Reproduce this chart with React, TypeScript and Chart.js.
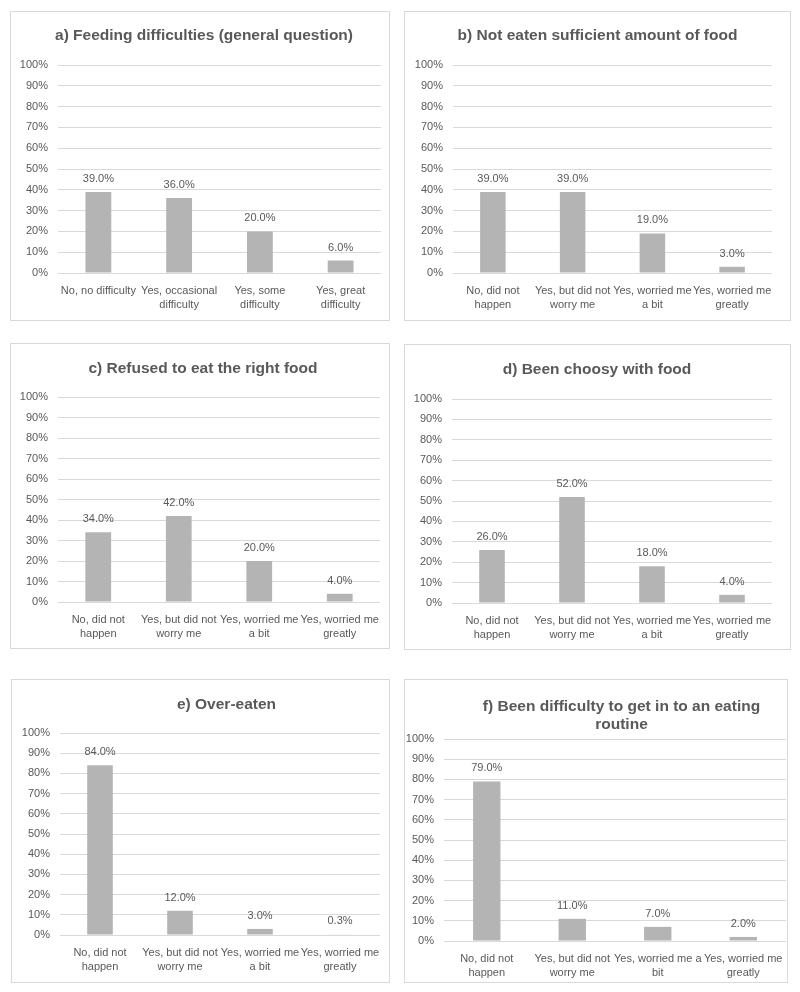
import React, { useEffect, useRef } from "react";
import { Chart, registerables } from "chart.js";

Chart.register(...registerables);

// ---------- data ----------
const labelsA = [["No, no difficulty"], ["Yes, occasional", "difficulty"], ["Yes, some", "difficulty"], ["Yes, great", "difficulty"]];
const labelsWorry = [["No, did not", "happen"], ["Yes, but did not", "worry me"], ["Yes, worried me", "a bit"], ["Yes, worried me", "greatly"]];
const labelsF = [["No, did not", "happen"], ["Yes, but did not", "worry me"], ["Yes, worried me a", "bit"], ["Yes, worried me", "greatly"]];

const valuesA = [39, 36, 20, 6];
const valuesB = [39, 39, 19, 3];
const valuesC = [34, 42, 20, 4];
const valuesD = [26, 52, 18, 4];
const valuesE = [84, 12, 3, 0.3];
const valuesF = [79, 11, 7, 2];

const titleA = ["a) Feeding difficulties (general question)"];
const titleB = ["b) Not eaten sufficient amount of food"];
const titleC = ["c) Refused to eat the right food"];
const titleD = ["d) Been choosy with food"];
const titleE = ["e) Over-eaten"];
const titleF = ["f) Been difficulty to get in to an eating", "routine"];

const yTickValues = [0, 10, 20, 30, 40, 50, 60, 70, 80, 90, 100];

// ---------- style ----------
const FONT = "'Liberation Sans', Arial, Helvetica, sans-serif";
const TEXT = "#595959";
const GRID = "#d9d9d9";
const BAR = "#b4b4b4";
const BORDER = "#d9d9d9";

type PanelCfg = {
  labels: string[][];
  values: number[];
  title: string[];
  box: [number, number, number, number]; // L, T, R, B (page px)
  plot: [number, number, number, number]; // left, top(100%), right, bottom(0%)
  titleX: number;
  titleBase: number[];
};

const PANELS: PanelCfg[] = [
  { labels: labelsA, values: valuesA, title: titleA, box: [10, 11, 389, 320], plot: [58, 65, 381, 273], titleX: 204, titleBase: [40] },
  { labels: labelsWorry, values: valuesB, title: titleB, box: [404, 11, 790, 320], plot: [453, 65, 772, 273], titleX: 597.5, titleBase: [40] },
  { labels: labelsWorry, values: valuesC, title: titleC, box: [10, 343, 389, 648], plot: [58, 397, 380, 602], titleX: 203, titleBase: [373] },
  { labels: labelsWorry, values: valuesD, title: titleD, box: [404, 344, 790, 649], plot: [452, 399, 772, 603], titleX: 597, titleBase: [374] },
  { labels: labelsWorry, values: valuesE, title: titleE, box: [11, 679, 389, 982], plot: [60, 733, 380, 935], titleX: 226.5, titleBase: [709] },
  { labels: labelsF, values: valuesF, title: titleF, box: [404, 679, 787, 982], plot: [444, 739, 786, 941], titleX: 621.5, titleBase: [711, 729] },
];

function Panel({ cfg }: { cfg: PanelCfg }) {
  const ref = useRef<HTMLCanvasElement>(null);
  const [L, T, R, B] = cfg.box;
  const W = R - L - 1;
  const H = B - T - 1;
  const ox = L + 1;
  const oy = T + 1;

  useEffect(() => {
    if (!ref.current) return;
    const [pl, pt, pr, pb] = cfg.plot;

    const labelPlugin = {
      id: "valueLabels",
      afterDatasetsDraw(chart: any) {
        const ctx = chart.ctx;
        const meta = chart.getDatasetMeta(0);
        ctx.save();
        ctx.font = `11px ${FONT}`;
        ctx.fillStyle = TEXT;
        ctx.textAlign = "center";
        ctx.textBaseline = "alphabetic";
        meta.data.forEach((bar: any, i: number) => {
          ctx.fillText(cfg.values[i].toFixed(1) + "%", bar.x, bar.y - 10);
        });
        ctx.restore();
      },
    };

    const titlePlugin = {
      id: "panelTitle",
      afterDraw(chart: any) {
        const ctx = chart.ctx;
        ctx.save();
        ctx.font = `bold 15.5px ${FONT}`;
        ctx.fillStyle = TEXT;
        ctx.textAlign = "center";
        ctx.textBaseline = "alphabetic";
        cfg.title.forEach((line, i) => {
          ctx.fillText(line, cfg.titleX - ox, cfg.titleBase[i] - oy);
        });
        ctx.restore();
      },
    };

    const chart = new Chart(ref.current, {
      type: "bar",
      data: {
        labels: cfg.labels as any,
        datasets: [
          {
            data: cfg.values,
            backgroundColor: BAR,
            borderWidth: 0,
            barPercentage: 0.32,
            categoryPercentage: 1,
          },
        ],
      },
      options: {
        responsive: false,
        animation: false,
        devicePixelRatio: 1,
        layout: { padding: { left: 0, top: pt - oy, right: R - pr, bottom: 0 } },
        plugins: {
          legend: { display: false },
          tooltip: { enabled: false },
          title: { display: false },
        },
        scales: {
          x: {
            grid: { display: false },
            border: { display: false },
            ticks: {
              color: TEXT,
              font: { family: FONT, size: 11, lineHeight: 1.25 },
              padding: 3,
              maxRotation: 0,
              minRotation: 0,
              autoSkip: false,
            },
            afterFit: (s: any) => {
              s.height = oy + H - pb;
              s.paddingLeft = 0;
              s.paddingRight = 0;
            },
          },
          y: {
            min: 0,
            max: 100,
            afterBuildTicks: (s: any) => {
              s.ticks = yTickValues.map((v) => ({ value: v }));
            },
            ticks: {
              color: TEXT,
              font: { family: FONT, size: 11 },
              padding: 10,
              callback: (v: any) => v + "%",
            },
            grid: { color: GRID, lineWidth: 1, drawTicks: false },
            border: { display: false },
            afterFit: (s: any) => {
              s.width = pl - ox;
            },
          },
        },
      },
      plugins: [labelPlugin, titlePlugin],
    } as any);
    return () => chart.destroy();
  }, []);

  return (
    <div
      style={{
        position: "absolute",
        left: L,
        top: T,
        width: R - L + 1,
        height: B - T + 1,
        boxSizing: "border-box",
        border: `1px solid ${BORDER}`,
        background: "#fff",
      }}
    >
      <canvas ref={ref} width={W} height={H} style={{ display: "block", width: W, height: H }} />
    </div>
  );
}

export default function App() {
  return (
    <div style={{ position: "absolute", left: 0, top: 0, width: 800, height: 992, background: "#fff", overflow: "hidden" }}>
      {PANELS.map((p, i) => (
        <Panel key={i} cfg={p} />
      ))}
    </div>
  );
}
